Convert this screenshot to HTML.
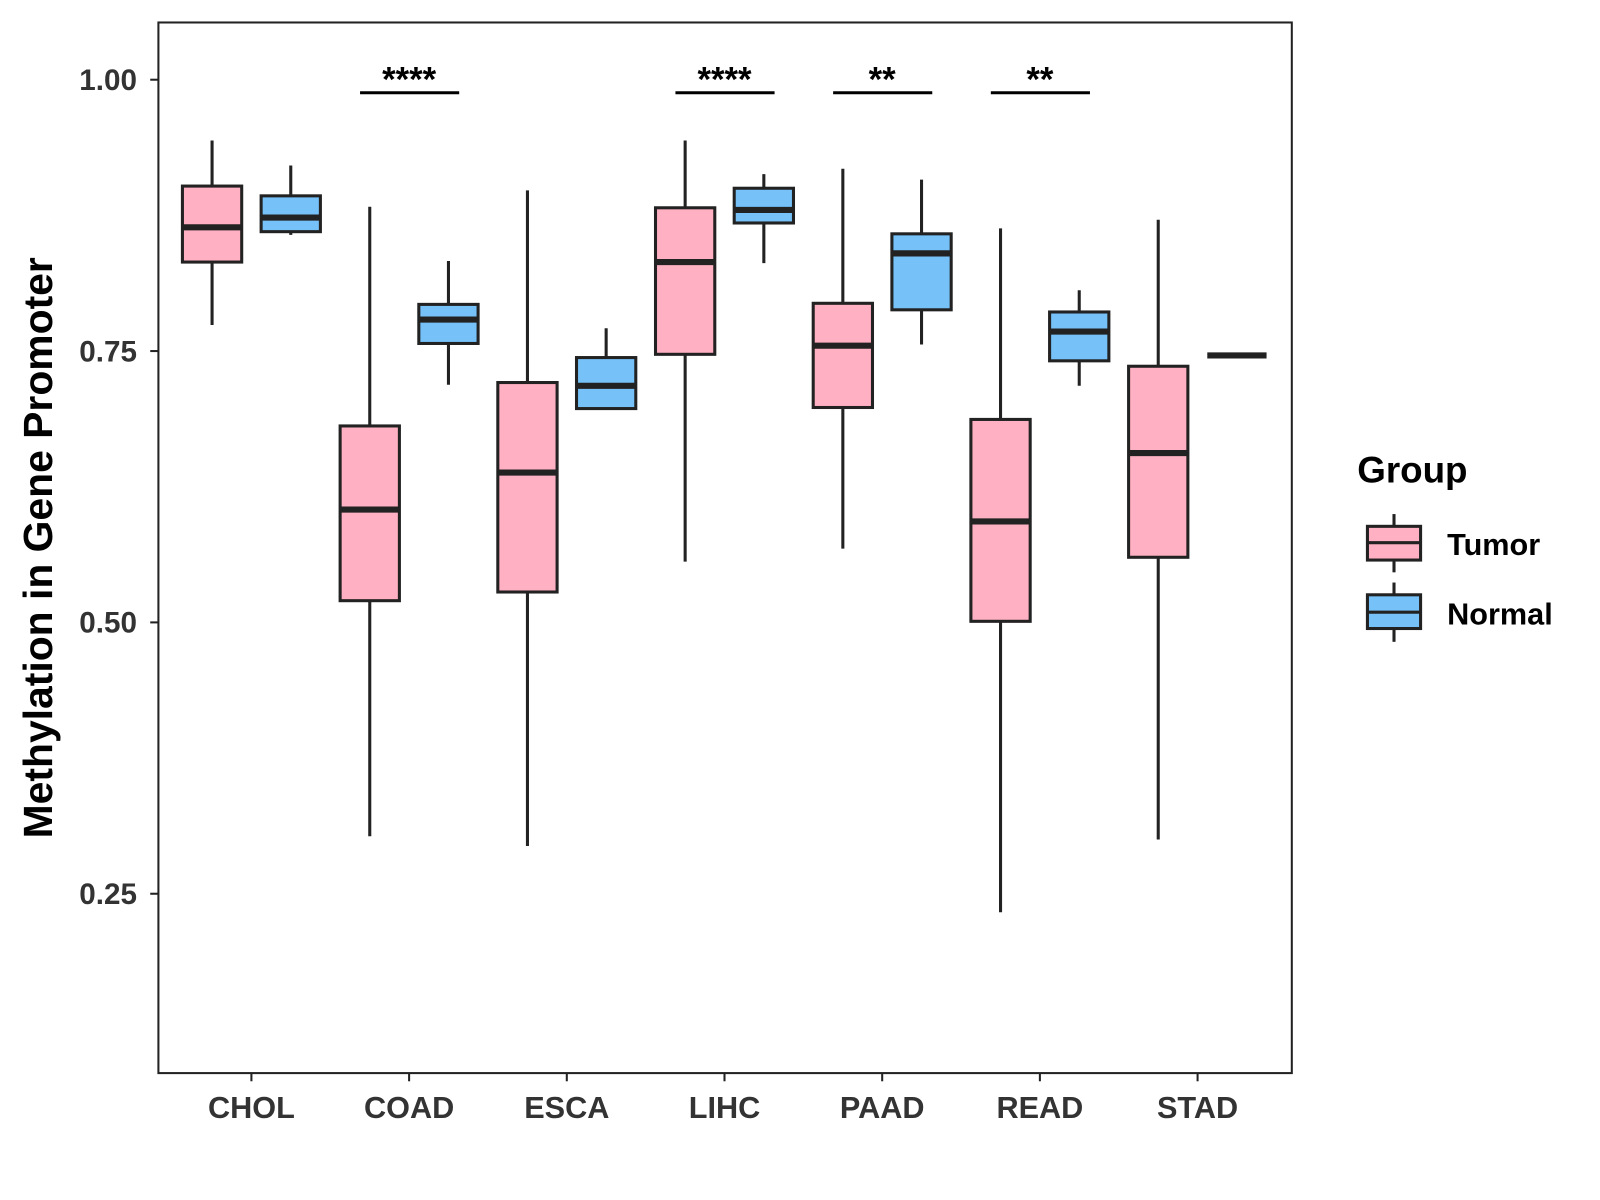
<!DOCTYPE html>
<html><head><meta charset="utf-8"><style>
html,body{margin:0;padding:0;background:#fff;}
svg{display:block;font-family:"Liberation Sans",Arial,sans-serif;}
</style></head><body>
<svg id="chart" width="1600" height="1200" viewBox="0 0 1600 1200">
<g transform="scale(1.022)">
<rect x="155" y="22" width="1109" height="1028" fill="#fff" stroke="#222" stroke-width="2"/>
<text transform="translate(51,536) rotate(-90)" text-anchor="middle" font-size="40" font-weight="bold" fill="#000">Methylation in Gene Promoter</text>
<g id="yticks"></g><g id="xticks"></g><g id="boxes"></g><g id="sig"></g>
<g>
<text x="1328" y="472" font-size="36" font-weight="bold" fill="#000">Group</text>
<g>
<line x1="1364" y1="503" x2="1364" y2="560" stroke="#222" stroke-width="3"/>
<rect x="1338" y="515" width="52" height="33" fill="#FFB0C2" stroke="#222" stroke-width="3"/>
<line x1="1338" y1="531" x2="1390" y2="531" stroke="#222" stroke-width="3"/>
<text x="1416" y="543" font-size="30" font-weight="bold" fill="#000">Tumor</text></g>
<g>
<line x1="1364" y1="570" x2="1364" y2="628" stroke="#222" stroke-width="3"/>
<rect x="1338" y="582" width="52" height="33" fill="#75C1F8" stroke="#222" stroke-width="3"/>
<line x1="1338" y1="599" x2="1390" y2="599" stroke="#222" stroke-width="3"/>
<text x="1416" y="611" font-size="30" font-weight="bold" fill="#000">Normal</text></g>
</g>
</g>
</svg>
<script>
const categories=["CHOL","COAD","ESCA","LIHC","PAAD","READ","STAD"];
const tumorStats=[[0.774,0.832,0.864,0.902,0.944],[0.303,0.520,0.604,0.681,0.883],[0.294,0.528,0.638,0.721,0.898],[0.556,0.747,0.832,0.882,0.944],[0.568,0.698,0.755,0.794,0.918],[0.233,0.501,0.593,0.687,0.863],[0.300,0.560,0.656,0.736,0.871]];
const normalStats=[[0.857,0.860,0.873,0.893,0.921],[0.719,0.757,0.779,0.793,0.833],[0.697,0.697,0.718,0.744,0.771],[0.831,0.868,0.880,0.900,0.913],[0.756,0.788,0.840,0.858,0.908],[0.718,0.741,0.768,0.786,0.806],[0.746,0.746,0.746,0.746,0.746]];
const yTicks=[0.25,0.50,0.75,1.00];
const yTickLabels=["0.25","0.50","0.75","1.00"];
const sigCats=["COAD","LIHC","PAAD","READ"];
const sigLabels=["****","****","**","**"];
const sigLevel=0.988;
const NS="http://www.w3.org/2000/svg";
const y=v=>78+(1-v)*1062;
const x=i=>246+i*154.3;
const g0=document.querySelector('#chart > g');
function mk(tag,attrs,parent,txt){const e=document.createElementNS(NS,tag);for(const k in attrs)e.setAttribute(k,attrs[k]);if(txt!==undefined)e.textContent=txt;parent.appendChild(e);return e;}
const yt=document.getElementById('yticks');
yTicks.forEach((v,i)=>{
 const l=mk('line',{x1:147,x2:155,y1:y(v),y2:y(v),stroke:'#222','stroke-width':2},yt);
 
 
 const t=mk('text',{x:134,y:y(v)+10,'text-anchor':'end','font-size':29,'font-weight':'bold',fill:'#333'},yt,yTickLabels[i]);
 
 
});
const xt=document.getElementById('xticks');
categories.forEach((c,i)=>{
 const l=mk('line',{x1:x(i),x2:x(i),y1:1050,y2:1058,stroke:'#222','stroke-width':2},xt);
 
 
 const t=mk('text',{x:x(i),y:1094,'text-anchor':'middle','font-size':30,'font-weight':'bold',fill:'#333'},xt,c);
 
 
});
const bx=document.getElementById('boxes');
function box(cx,s,fill,name){
 const g=mk('g',{},bx);
 
 
 mk('line',{x1:cx,x2:cx,y1:y(s[4]),y2:y(s[0]),stroke:'#222','stroke-width':3},g);
 const h=Math.max(y(s[1])-y(s[3]),0);
 mk('rect',{x:cx-29,y:y(s[3]),width:58,height:h,fill:fill,stroke:'#222','stroke-width':3},g);
 mk('line',{x1:cx-29,x2:cx+29,y1:y(s[2]),y2:y(s[2]),stroke:'#222','stroke-width':6},g);
}
categories.forEach((c,i)=>{
 box(x(i)-38.5,tumorStats[i],'#FFB0C2','box-tumor-'+c.toLowerCase());
 box(x(i)+38.5,normalStats[i],'#75C1F8','box-normal-'+c.toLowerCase());
});
const sg=document.getElementById('sig');
sigCats.forEach((c,k)=>{
 const i=categories.indexOf(c);
 const g=mk('g',{},sg);
 
 
 mk('line',{x1:x(i)-48,x2:x(i)+49,y1:y(sigLevel),y2:y(sigLevel),stroke:'#000','stroke-width':3},g);
 mk('text',{x:x(i),y:y(sigLevel)-1,'text-anchor':'middle','font-size':34,'font-weight':'bold',fill:'#000'},g,sigLabels[k]);
});
</script>
</body></html>
